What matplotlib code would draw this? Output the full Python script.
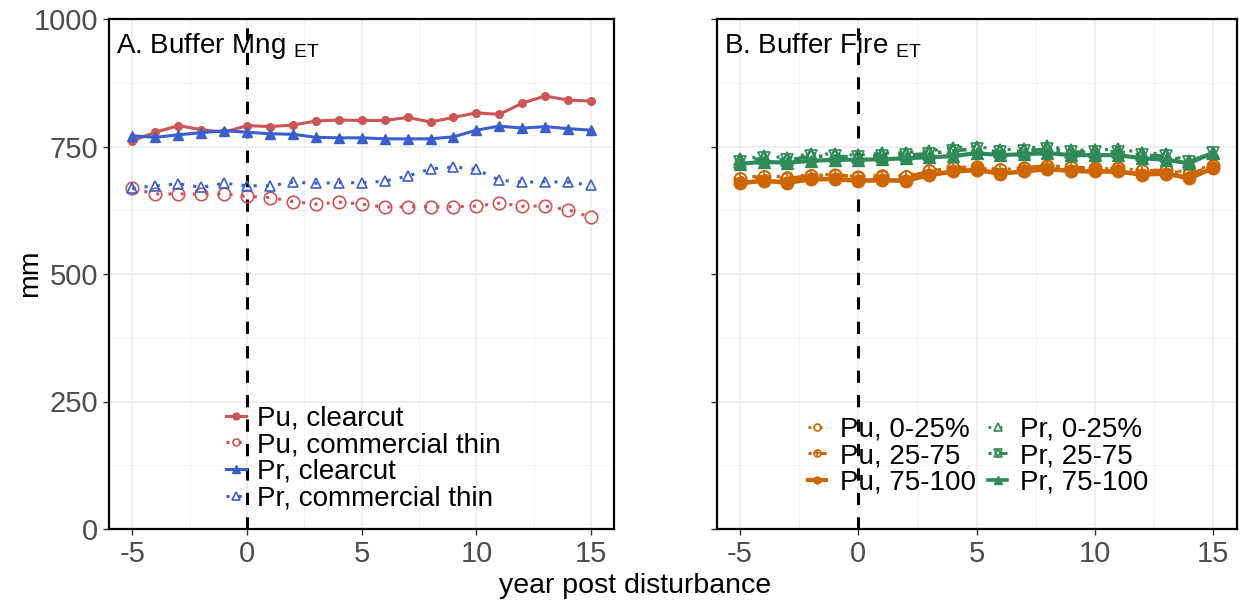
import matplotlib
matplotlib.use("Agg")
from matplotlib import pyplot as plt
from matplotlib.lines import Line2D
from matplotlib.legend_handler import HandlerTuple

plt.rcParams.update({
    'font.family': ['Liberation Sans', 'DejaVu Sans'],
    'mathtext.fontset': 'custom',
    'mathtext.rm': 'Liberation Sans',
    'mathtext.it': 'Liberation Sans:italic',
    'mathtext.bf': 'Liberation Sans:bold',
    'axes.unicode_minus': False,
})

years = [-5, -4, -3, -2, -1, 0, 1, 2, 3, 4, 5, 6, 7, 8, 9, 10, 11, 12, 13, 14, 15]

# A. management buffer, ET in mm
pu_clearcut = [761, 778, 791, 783, 778, 791, 789, 792, 800, 802, 801, 801, 807, 798, 807, 816, 813, 835, 849, 841, 839]
pu_comthin = [668, 657, 657, 657, 657, 652, 650, 642, 637, 641, 637, 631, 632, 632, 632, 633, 639, 633, 633, 626, 611]
pr_clearcut = [771, 768, 773, 777, 781, 778, 775, 774, 768, 767, 767, 765, 765, 765, 769, 782, 790, 786, 789, 785, 782]
pr_comthin = [668, 673, 677, 670, 678, 673, 673, 680, 678, 679, 679, 682, 692, 706, 710, 705, 684, 680, 681, 680, 674]

# B. fire buffer, ET in mm by burn severity class
pu_0_25 = [689, 693, 690, 695, 695, 691, 694, 693, 703, 709, 708, 705, 707, 712, 709, 705, 708, 703, 704, 700, 714]
pu_25_75 = [687, 691, 687, 693, 694, 691, 691, 690, 701, 708, 710, 704, 708, 712, 709, 707, 707, 702, 703, 695, 712]
pu_75_100 = [678, 683, 679, 686, 686, 683, 684, 683, 694, 701, 704, 697, 701, 706, 702, 701, 701, 695, 697, 688, 707]
pr_0_25 = [725, 731, 728, 736, 735, 733, 737, 738, 741, 748, 750, 743, 746, 751, 743, 743, 745, 738, 735, 722, 738]
pr_25_75 = [720, 727, 723, 731, 731, 729, 732, 733, 736, 742, 745, 739, 741, 745, 739, 739, 740, 733, 731, 720, 738]
pr_75_100 = [716, 720, 718, 722, 724, 724, 725, 727, 729, 731, 737, 733, 735, 737, 733, 733, 733, 727, 724, 717, 738]

red = '#cd5555'
blue = '#3a5fcd'
orange = '#cd6600'
green = '#2e8b57'

fig = plt.figure(figsize=(12.48, 6.04), dpi=100)
ax1 = fig.add_axes([109.5 / 1248, 75 / 604, 504.5 / 1248, 510 / 604])
ax2 = fig.add_axes([716.5 / 1248, 75 / 604, 520 / 1248, 510 / 604])


def setup(ax, title, tx):
    ax.set_xlim(-6, 16)
    ax.set_ylim(0, 1000)
    ax.set_xticks([-5, 0, 5, 10, 15])
    ax.set_xticks([-2.5, 2.5, 7.5, 12.5], minor=True)
    ax.set_yticks([0, 250, 500, 750, 1000])
    ax.set_yticks([125, 375, 625, 875], minor=True)
    ax.grid(which='major', color='#ebebeb', lw=1.1)
    ax.grid(which='minor', color='#f2f2f2', lw=0.7)
    ax.set_axisbelow(True)
    ax.tick_params(which='major', length=4, width=1, color='#333333',
                   labelsize=21, labelcolor='#4d4d4d', pad=4)
    ax.tick_params(which='minor', length=0)
    for s in ax.spines.values():
        s.set_linewidth(1.6)
        s.set_color('black')
    ax.axvline(0, color='black', lw=2.2, dashes=(4, 4), zorder=1.5)
    ax.text(tx, 0.933, title, transform=ax.transAxes, fontsize=20, va='baseline')


setup(ax1, 'A. Buffer Mng $_{\\mathrm{ET}}$', 0.013)
setup(ax2, 'B. Buffer Fire $_{\\mathrm{ET}}$', 0.015)
ax2.tick_params(axis='y', labelleft=False)

dot = (1, 3)
dotdash = (1, 3, 4, 3)

# panel A
ax1.plot(years, pu_comthin, color=red, lw=2.2, dashes=dot, marker='o', ms=9, mfc='none', mew=1.2)
ax1.plot(years, pr_comthin, color=blue, lw=2.2, dashes=dot, marker='^', ms=6.5, mfc='none', mew=1.2)
ax1.plot(years, pu_clearcut, color=red, lw=2.2, marker='o', ms=5.5)
ax1.plot(years, pr_clearcut, color=blue, lw=2.2, marker='^', ms=7.5)

h_a = [
    Line2D([], [], color=red, lw=2.2, marker='o', ms=5),
    Line2D([], [], color=red, lw=2.2, dashes=dot, marker='o', ms=5, mfc='none', mew=1.2),
    Line2D([], [], color=blue, lw=2.2, marker='^', ms=5.5),
    Line2D([], [], color=blue, lw=2.2, dashes=dot, marker='^', ms=5.5, mfc='none', mew=1.2),
]
ax1.legend(h_a, ['Pu, clearcut', 'Pu, commercial thin', 'Pr, clearcut', 'Pr, commercial thin'],
           loc='center', bbox_to_anchor=(0.291, 0.241), bbox_transform=fig.transFigure,
           frameon=False, fontsize=20, handlelength=0.7, handletextpad=0.4,
           labelspacing=0.02, borderpad=0, borderaxespad=0)

# panel B
ax2.plot(years, pu_0_25, color=orange, lw=2.2, dashes=dot, marker='o', ms=8, mfc='none', mew=1.2)
ax2.plot(years, pu_25_75, color=orange, lw=2.6, dashes=dotdash, marker='o', ms=9, mfc='none', mew=1.2)
ax2.plot(years, pu_25_75, ls='none', color=orange, marker='+', ms=9, mew=1.2)
ax2.plot(years, pu_75_100, color=orange, lw=3.3, marker='o', ms=9)
ax2.plot(years, pr_0_25, color=green, lw=2.2, dashes=dot, marker='^', ms=9, mfc='none', mew=1.2)
ax2.plot(years, pr_25_75, color=green, lw=2.6, dashes=dotdash, marker='^', ms=9, mfc='none', mew=1.2)
ax2.plot(years, pr_25_75, ls='none', color=green, marker='v', ms=9, mfc='none', mew=1.2)
ax2.plot(years, pr_75_100, color=green, lw=3.0, marker='^', ms=9)

h_b = [
    Line2D([], [], color=orange, lw=2.0, dashes=dot, marker='o', ms=5, mfc='none', mew=1.2),
    (Line2D([], [], color=orange, lw=2.2, dashes=dotdash, marker='o', ms=5, mfc='none', mew=1.2),
     Line2D([], [], ls='none', color=orange, marker='+', ms=5, mew=1.2)),
    Line2D([], [], color=orange, lw=3.0, marker='o', ms=5),
    Line2D([], [], color=green, lw=2.0, dashes=dot, marker='^', ms=5.5, mfc='none', mew=1.2),
    (Line2D([], [], color=green, lw=2.2, dashes=dotdash, marker='^', ms=5.5, mfc='none', mew=1.2),
     Line2D([], [], ls='none', color=green, marker='v', ms=5.5, mfc='none', mew=1.2)),
    Line2D([], [], color=green, lw=2.6, marker='^', ms=5.5),
]
ax2.legend(h_b, ['Pu, 0-25%', 'Pu, 25-75', 'Pu, 75-100', 'Pr, 0-25%', 'Pr, 25-75', 'Pr, 75-100'],
           handler_map={tuple: HandlerTuple(ndivide=1)}, ncol=2,
           loc='center', bbox_to_anchor=(0.784, 0.245), bbox_transform=fig.transFigure,
           frameon=False, fontsize=20, handlelength=0.65, handletextpad=0.5,
           labelspacing=0.02, columnspacing=0.45, borderpad=0, borderaxespad=0)

fig.text(30 / 1248, 1 - 273 / 604, 'mm', rotation=90, fontsize=20.5, ha='center', va='center')
fig.text(0.509, 1 - 586 / 604, 'year post disturbance', fontsize=20.5, ha='center', va='center')

fig.savefig('out.png', dpi=100)
